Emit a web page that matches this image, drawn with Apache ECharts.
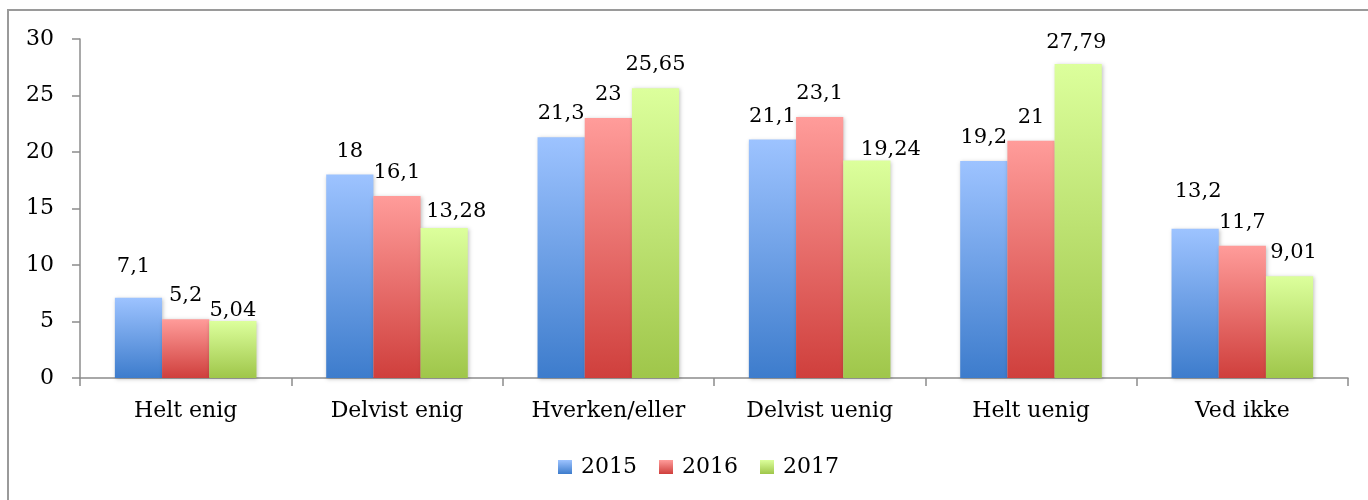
<!DOCTYPE html>
<html><head><meta charset="utf-8">
<script src="https://cdn.jsdelivr.net/npm/echarts@6/dist/echarts.min.js"></script>
<style>html,body{margin:0;padding:0;background:#fff}#c{width:1368px;height:500px}</style>
</head><body><div id="c"></div>
<script>
const categories = ['Helt enig','Delvist enig','Hverken/eller','Delvist uenig','Helt uenig','Ved ikke'];
const years = ['2015','2016','2017'];
const v2015 = [7.1, 18, 21.3, 21.1, 19.2, 13.2];
const v2016 = [5.2, 16.1, 23, 23.1, 21, 11.7];
const v2017 = [5.04, 13.28, 25.65, 19.24, 27.79, 9.01];
const yTicks = [0,5,10,15,20,25,30];

// hand-placed data-label nudges seen in the original: [seriesIndex, dataIndex, dx, dy]
const labelNudges = [
  [0,0,-5,-8],[2,0,0,13],[2,1,12,7],[2,3,24,12],[0,5,3,-14],[2,5,4,0],[2,4,-2,2]
];

const font = '"DejaVu Serif", "Liberation Serif", serif';
function grad(top, bottom){
  return new echarts.graphic.LinearGradient(0,0,0,1,[{offset:0,color:top},{offset:1,color:bottom}]);
}
const gradStops = [['#9dc3ff','#3d7ccc'],['#ff9c9a','#cf3f3c'],['#dcff9c','#9fc64a']];
const data = [v2015, v2016, v2017];

function seriesData(si){
  return data[si].map((v,di)=>{
    const n = labelNudges.find(a=>a[0]===si && a[1]===di);
    return n ? {value:v, label:{offset:[n[2],n[3]]}} : v;
  });
}

const chart = echarts.init(document.getElementById('c'));
chart.setOption({
  animation:false,
  graphic:[{type:'rect',shape:{x:8,y:10,width:1400,height:520},style:{fill:'none',stroke:'#9a9a9a',lineWidth:2},silent:true,z:-1}],
  grid:{left:80,right:20,top:39,bottom:122},
  legend:{
    bottom:17,left:553,itemWidth:14,itemHeight:14,itemGap:22,
    textStyle:{fontFamily:font,fontSize:22,color:'#000',padding:[0,0,0,4]},
    data: years.map((y,i)=>({name:y,icon:'rect',itemStyle:{color:grad(gradStops[i][0],gradStops[i][1])}}))
  },
  xAxis:{
    type:'category',data:categories,
    axisLine:{lineStyle:{color:'#8c8c8c',width:1.5}},
    axisTick:{show:true,length:8,alignWithLabel:false,lineStyle:{color:'#8c8c8c',width:1.5}},
    axisLabel:{fontFamily:font,fontSize:22,color:'#000',margin:22}
  },
  yAxis:{
    type:'value',min:0,max:30,interval:5,
    axisLine:{show:true,lineStyle:{color:'#8c8c8c',width:1.5}},
    axisTick:{show:true,length:8,lineStyle:{color:'#8c8c8c',width:1.5}},
    splitLine:{show:false},
    axisLabel:{fontFamily:font,fontSize:22,color:'#000',margin:26,
      formatter:v=>yTicks.includes(v)?String(v):''}
  },
  series: years.map((y,i)=>({
    name:y,type:'bar',data:seriesData(i),barGap:'0%',barCategoryGap:'33%',
    itemStyle:{color:grad(gradStops[i][0],gradStops[i][1]),shadowColor:'rgba(0,0,0,0.25)',shadowBlur:4,shadowOffsetX:1,shadowOffsetY:1},
    label:{show:true,position:'top',distance:13,fontFamily:font,fontSize:21,color:'#000',
      formatter:p=>String(p.value).replace('.',',')}
  }))
});
</script></body></html>
